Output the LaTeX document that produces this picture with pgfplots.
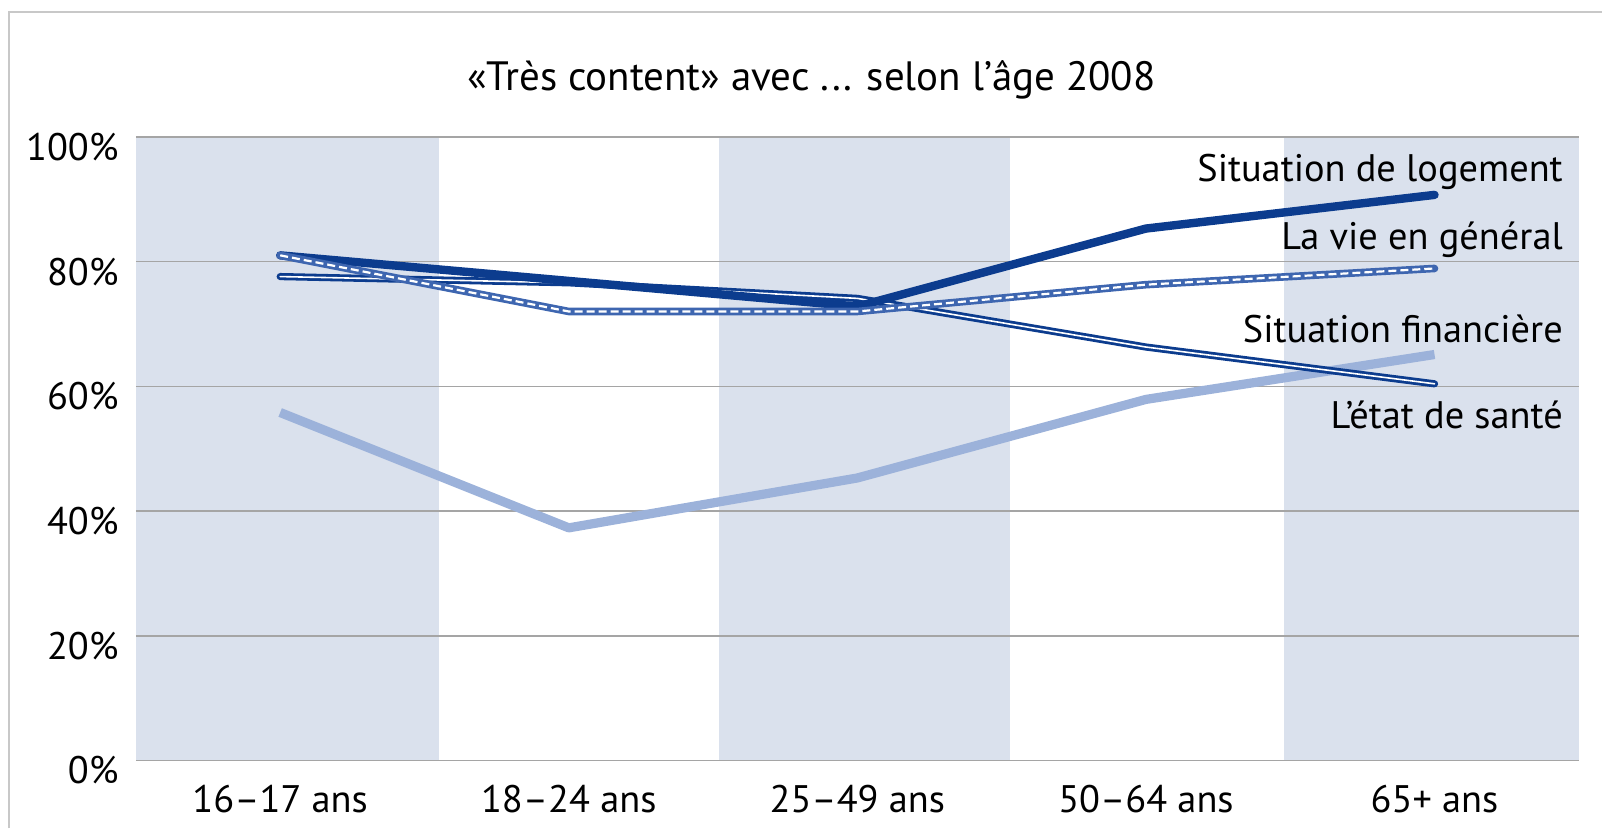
\documentclass[border=0pt]{standalone}
\usepackage{pgfplots}
\pgfplotsset{compat=1.18}
\usepackage{fontspec}
\setmainfont{PT Sans}
\definecolor{dkblue}{RGB}{12,60,142}
\definecolor{mdblue}{RGB}{62,102,176}
\definecolor{ltblue}{RGB}{156,178,218}
\definecolor{band}{RGB}{218,225,237}
\definecolor{gridgray}{RGB}{165,165,165}
\definecolor{framegray}{RGB}{200,200,200}
\pgfplotsset{set layers}
\begin{document}
\fontsize{19.2}{22}\selectfont
\begin{tikzpicture}
\path (0pt,0pt) rectangle (801.5pt,414.5pt);
\draw[line width=1.2pt, color=framegray] (4.5pt,0pt) -- (4.5pt,408.5pt) -- (801.5pt,408.5pt);
\node[anchor=base, font=\fontsize{20.5}{24}\selectfont] at (406pt,369pt) {«Très content» avec ... selon l’âge 2008};
\begin{axis}[
  at={(68pt,34pt)}, anchor=south west,
  scale only axis, width=722pt, height=312pt,
  xmin=-0.5, xmax=4.5, ymin=0, ymax=100,
  xtick={0,1,2,3,4},
  xticklabels={16–17 ans,18–24 ans,25–49 ans,50–64 ans,65+ ans},
  ytick={0,20,40,60,80,100},
  /pgf/number format/assume math mode=true,
  yticklabel={\pgfmathprintnumber{\tick}\%},
  major tick length=0pt,
  axis line style={draw=none},
  ymajorgrids,
  grid style={line width=0.8pt, color=gridgray},
  xticklabel style={anchor=north, inner sep=0pt, yshift=-12pt},
  yticklabel style={anchor=east, inner sep=0pt, xshift=-8.5pt, yshift=-5pt},
  clip=false,
]
\addplot[fill=band, draw=none, on layer=axis background] coordinates {(-0.5,0)(0.55,0)(0.55,100)(-0.5,100)} -- cycle;
\addplot[fill=band, draw=none, on layer=axis background] coordinates {(1.52,0)(2.53,0)(2.53,100)(1.52,100)} -- cycle;
\addplot[fill=band, draw=none, on layer=axis background] coordinates {(3.48,0)(4.5,0)(4.5,100)(3.48,100)} -- cycle;
% Situation financière
\addplot[ltblue, line width=4.6pt, line join=round] coordinates {(0,55.8)(1,37.3)(2,45.3)(3,57.9)(4,65.1)};
% L'état de santé
\addplot[dkblue, line width=1.4pt, double=white, double distance=0.8pt, line join=round, line cap=round] coordinates {(0,77.6)(1,76.6)(2,74.1)(3,66.3)(4,60.4)};
% Situation de logement
\addplot[dkblue, line width=4.2pt, line join=round, line cap=round] coordinates {(0,81.0)(1,76.9)(2,72.8)(3,85.3)(4,90.7)};
% La vie en général
\addplot[mdblue, line width=3.8pt, line join=round, line cap=round] coordinates {(0,81.0)(1,72.0)(2,72.0)(3,76.3)(4,78.9)};
\addplot[white, line width=1.1pt, dash pattern=on 4pt off 2pt] coordinates {(0,81.0)(1,72.0)(2,72.0)(3,76.3)(4,78.9)};
\node[anchor=base east] at (axis cs:4.49,92.8) {Situation de logement};
\node[anchor=base east] at (axis cs:4.49,81.9) {La vie en général};
\node[anchor=base east] at (axis cs:4.49,67.1) {Situation financière};
\node[anchor=base east] at (axis cs:4.49,53.2) {L’état de santé};
\end{axis}
\end{tikzpicture}
\end{document}
